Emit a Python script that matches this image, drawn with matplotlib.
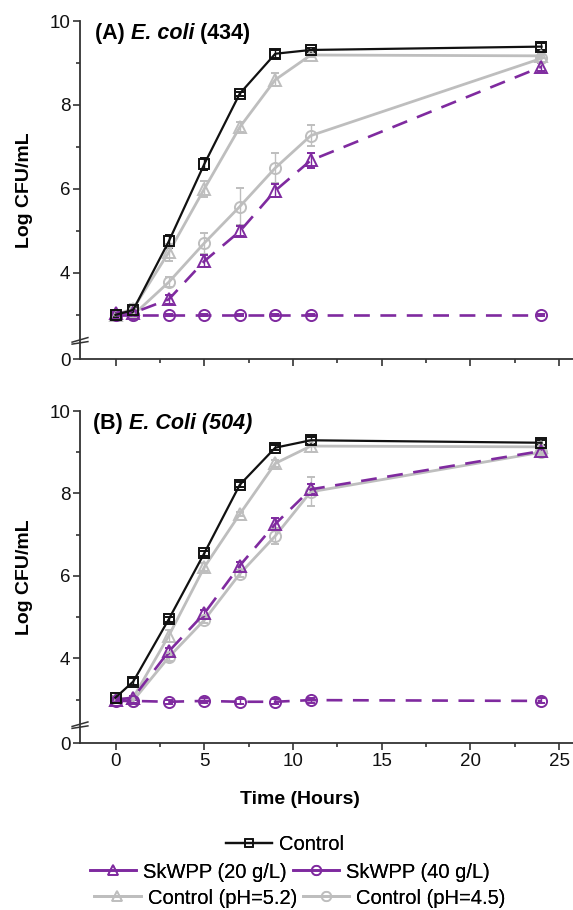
import numpy as np
import matplotlib
matplotlib.use("Agg")
import matplotlib.pyplot as plt
from matplotlib.lines import Line2D
from matplotlib.ticker import FixedLocator, MultipleLocator
import matplotlib.transforms as mtransforms

plt.rcParams["font.family"] = ["Liberation Sans", "DejaVu Sans"]

# Sampling times (hours)
time_h = [0, 1, 3, 5, 7, 9, 11, 24]

# Panel A: E. coli (434), log CFU/mL
a_control = [3.00, 3.12, 4.75, 6.59, 8.27, 9.22, 9.31, 9.39]
a_ph52 = [3.00, 3.15, 4.49, 6.00, 7.47, 8.60, 9.19, 9.17]
a_ph45 = [3.00, 3.00, 3.78, 4.71, 5.58, 6.50, 7.27, 9.11]
a_sk20 = [3.05, 3.05, 3.37, 4.28, 4.99, 5.96, 6.68, 8.91]
a_sk40 = [3.00, 3.00, 3.00, 3.00, 3.00, 3.00, 3.00, 3.00]
a_control_err = [0.05, 0.08, 0.15, 0.15, 0.05, 0.10, 0.05, 0.08]
a_ph52_err = [0.05, 0.10, 0.20, 0.20, 0.12, 0.15, 0.05, 0.05]
a_ph45_err = [0.05, 0.05, 0.12, 0.25, 0.45, 0.35, 0.25, 0.10]
a_sk20_err = [0.05, 0.05, 0.10, 0.15, 0.12, 0.15, 0.18, 0.10]
a_sk40_err = [0.03, 0.03, 0.03, 0.03, 0.03, 0.03, 0.03, 0.03]

# Panel B: E. coli (504), log CFU/mL
b_control = [3.05, 3.44, 4.95, 6.55, 8.21, 9.11, 9.29, 9.23]
b_ph52 = [3.00, 3.05, 4.55, 6.21, 7.50, 8.73, 9.15, 9.13]
b_ph45 = [3.00, 2.98, 4.03, 4.93, 6.05, 6.97, 8.04, 9.00]
b_sk20 = [3.00, 3.05, 4.17, 5.09, 6.25, 7.26, 8.10, 9.03]
b_sk40 = [2.97, 2.97, 2.95, 2.97, 2.95, 2.95, 2.99, 2.97]
b_control_err = [0.05, 0.08, 0.06, 0.06, 0.06, 0.06, 0.08, 0.06]
b_ph52_err = [0.05, 0.05, 0.15, 0.10, 0.05, 0.08, 0.15, 0.05]
b_ph45_err = [0.05, 0.05, 0.08, 0.08, 0.08, 0.20, 0.35, 0.06]
b_sk20_err = [0.05, 0.05, 0.08, 0.08, 0.10, 0.15, 0.12, 0.06]
b_sk40_err = [0.05, 0.05, 0.05, 0.06, 0.06, 0.06, 0.06, 0.06]

series_labels = ["Control", "SkWPP (20 g/L)", "SkWPP (40 g/L)",
                 "Control (pH=5.2)", "Control (pH=4.5)"]

BLACK = "#111111"
PURPLE = "#7F2A9F"
GRAY = "#BEBEBE"
SPINE = "#333333"

styles = {
    "Control": dict(color=BLACK, marker="s", ms=7.5, ls="-", lw=1.6),
    "SkWPP (20 g/L)": dict(color=PURPLE, marker="^", ms=9, ls=(0, (6, 4)), lw=1.9),
    "SkWPP (40 g/L)": dict(color=PURPLE, marker="o", ms=8, ls=(0, (6, 4)), lw=1.9),
    "Control (pH=5.2)": dict(color=GRAY, marker="^", ms=9, ls="-", lw=2.0),
    "Control (pH=4.5)": dict(color=GRAY, marker="o", ms=8, ls="-", lw=2.0),
}

# Broken y axis: values below BREAK are compressed into a short stub
BREAK = 2.4
LOW0 = 1.95
SLOPE = (BREAK - LOW0) / BREAK


def fwd(y):
    y = np.asarray(y, dtype=float)
    return np.where(y >= BREAK, y, LOW0 + y * SLOPE)


def inv(v):
    v = np.asarray(v, dtype=float)
    return np.where(v >= BREAK, v, (v - LOW0) / SLOPE)


W, H = 573, 910
fig = plt.figure(figsize=(W / 100, H / 100), dpi=100)

x_left, x_right = -2, 25.8
ax_left_px = 80
ax_w_px = 17.75 * (x_right - x_left)


def make_axes(top_px, bottom_px):
    return fig.add_axes([ax_left_px / W, (H - bottom_px) / H,
                         ax_w_px / W, (bottom_px - top_px) / H])


axA = make_axes(21, 359)
axB = make_axes(411, 743)

panels = [
    (axA, [a_control, a_sk20, a_sk40, a_ph52, a_ph45],
     [a_control_err, a_sk20_err, a_sk40_err, a_ph52_err, a_ph45_err]),
    (axB, [b_control, b_sk20, b_sk40, b_ph52, b_ph45],
     [b_control_err, b_sk20_err, b_sk40_err, b_ph52_err, b_ph45_err]),
]

draw_order = [3, 4, 1, 2, 0]
for ax, vals, errs in panels:
    ax.set_yscale("function", functions=(fwd, inv))
    for i in draw_order:
        st = styles[series_labels[i]]
        ax.errorbar(time_h, vals[i], yerr=errs[i], color=st["color"],
                    ecolor=st["color"], elinewidth=1.0, capsize=3, capthick=1.0,
                    marker=st["marker"], ms=st["ms"], mfc="none",
                    mec=st["color"], mew=1.4, ls=st["ls"], lw=st["lw"],
                    zorder=3)
    ax.set_xlim(x_left, x_right)
    ax.set_ylim(0, 10)
    ax.yaxis.set_major_locator(FixedLocator([0, 4, 6, 8, 10]))
    ax.yaxis.set_minor_locator(FixedLocator([3, 5, 7, 9]))
    ax.yaxis.set_major_formatter(plt.FuncFormatter(lambda v, p: f"{v:g}"))
    ax.yaxis.set_minor_formatter(plt.NullFormatter())
    ax.xaxis.set_major_locator(MultipleLocator(5))
    ax.xaxis.set_minor_locator(MultipleLocator(2.5))
    for s in ["top", "right"]:
        ax.spines[s].set_visible(False)
    for s in ["left", "bottom"]:
        ax.spines[s].set_linewidth(1.3)
        ax.spines[s].set_color(SPINE)
    ax.tick_params(which="major", direction="out", length=5, width=1.2,
                   color=SPINE, labelsize=13.5, labelcolor="#111111", pad=2)
    ax.tick_params(which="minor", direction="out", length=3, width=1.2,
                   color=SPINE)
    ax.set_ylabel("Log CFU/mL", fontsize=14, fontweight="bold")
    ax.yaxis.set_label_coords(-0.095, 0.5)

    # axis break marks on the y axis
    trans = mtransforms.blended_transform_factory(ax.transAxes, ax.transData)
    for yb in (2.05, 2.30):
        ax.plot([-0.016, 0.016], [yb - 0.16, yb + 0.16], color=SPINE, lw=1.1,
                transform=trans, clip_on=False, zorder=5)

axA.tick_params(axis="x", labelbottom=False)
fig.text(300 / W, 1 - 800 / H, "Time (Hours)", ha="center", va="center",
         fontsize=14, fontweight="bold")


def chained_title(x_px, y_px, parts, size=15.5):
    """Write consecutive text pieces with their own styles on one line."""
    prev = fig.text(x_px / W, 1 - y_px / H, parts[0][0], fontsize=size,
                    fontweight="bold", style=parts[0][1], va="baseline",
                    ha="left")
    for txt, sty in parts[1:]:
        prev = fig.add_artist(plt.Annotation(
            txt, xy=(1, 0), xycoords=prev, xytext=(0, 0),
            textcoords="offset points", va="bottom", ha="left",
            fontsize=size, fontweight="bold", style=sty))
    return prev


chained_title(95, 39, [("(A) ", "normal"), ("E. coli", "italic"),
                       (" (434)", "normal")])
chained_title(93, 429, [("(B) ", "normal"), ("E. Coli (504)", "italic")])


# Legend rows below the plots
def handle(label):
    st = styles[label]
    return Line2D([], [], color=st["color"], marker=st["marker"],
                  ms=st["ms"] * 0.85, mfc="none", mec=st["color"], mew=1.2,
                  ls="-", lw=st["lw"])


leg_kw = dict(frameon=False, fontsize=14.5, handlelength=2.3,
              handletextpad=0.35, columnspacing=0.3, borderaxespad=0,
              borderpad=0, loc="center")
rows = [(285, 845, [series_labels[0]]),
        (290, 872, [series_labels[1], series_labels[2]]),
        (300, 898, [series_labels[3], series_labels[4]])]
for cx, cy, labs in rows:
    leg = fig.legend([handle(l) for l in labs], labs, ncol=len(labs),
                     bbox_to_anchor=(cx / W, 1 - cy / H), **leg_kw)
    fig.add_artist(leg)

fig.savefig("out.png", dpi=100)
